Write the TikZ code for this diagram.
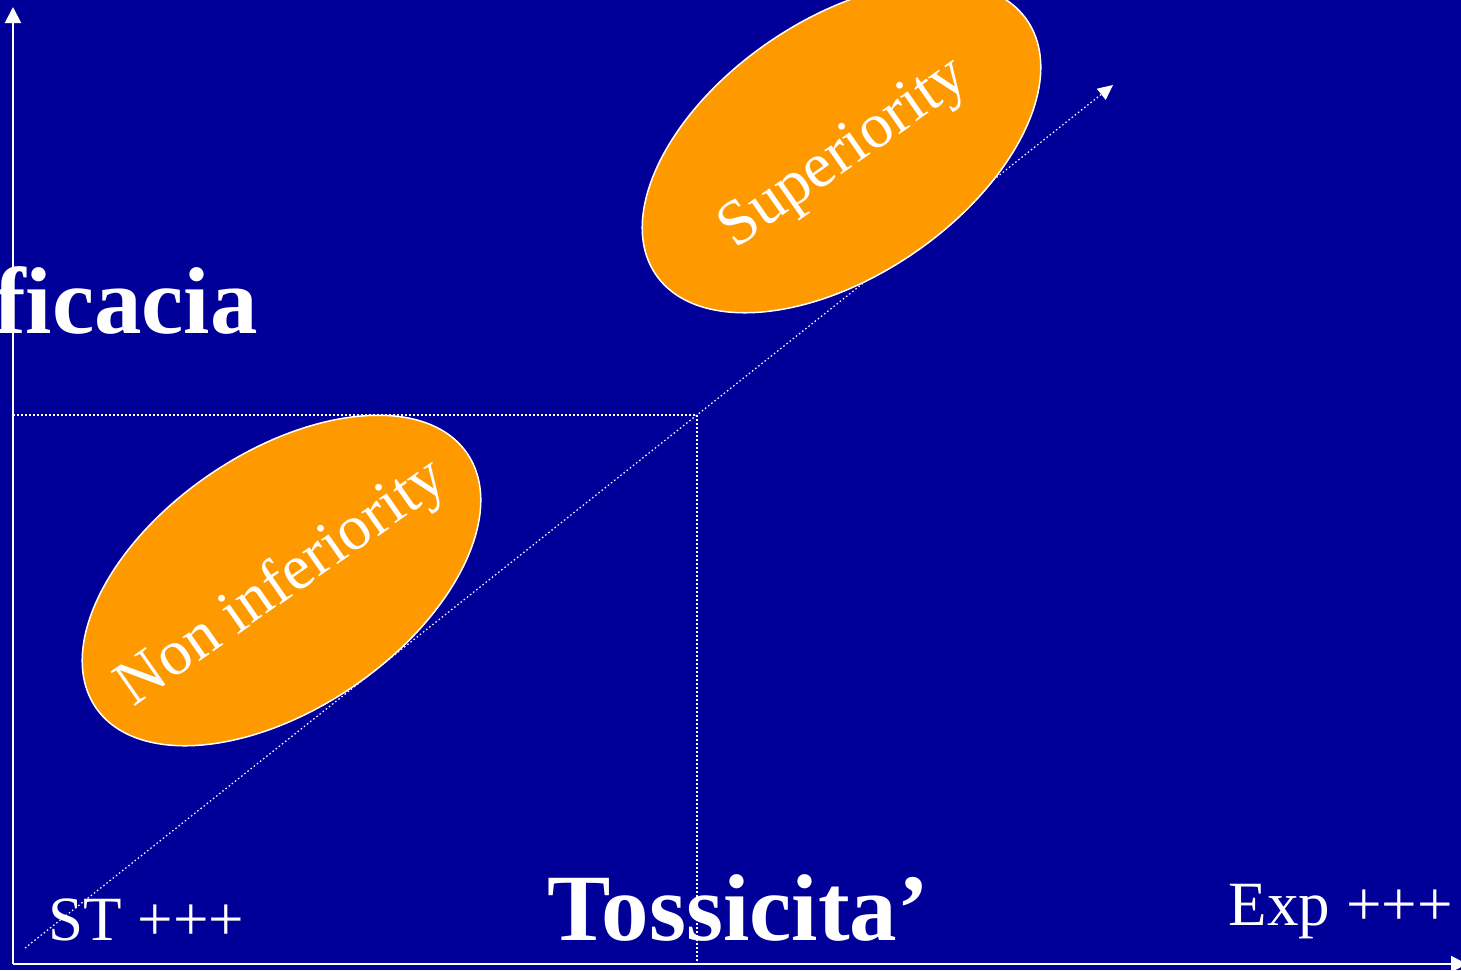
\documentclass[tikz,border=0pt]{standalone}
\usepackage{fontspec}
\setmainfont{Liberation Serif}
\usetikzlibrary{arrows.meta,shapes.geometric}
\definecolor{bgblue}{RGB}{0,0,153}
\definecolor{blob}{RGB}{255,153,0}
\tikzset{
  axis/.style={white, line width=2pt, -{Triangle[width=16pt,length=16pt]}},
  guide/.style={white, line width=1.2pt, dash pattern=on 1.5pt off 2.5pt},
  blobshape/.style={ellipse, draw=white, line width=1.5pt, fill=blob, inner sep=0pt,
    minimum width=450pt, minimum height=256pt, rotate=34.4},
  blobtext/.style={text=white, inner sep=0pt, font=\fontsize{64}{68}\selectfont, rotate=35},
  big/.style={text=white, inner sep=0pt, font=\bfseries\fontsize{95}{100}\selectfont},
  side/.style={text=white, inner sep=0pt, font=\fontsize{63}{68}\selectfont}
}
\begin{document}
\begin{tikzpicture}[x=1pt,y=-1pt]
\useasboundingbox (0,0) rectangle (1461,970);
\clip (0,0) rectangle (1461,970);
\fill[bgblue] (0,0) rectangle (1461,970);
\coordinate (O) at (13,964);
\coordinate (ytip) at (13,7);
\coordinate (xtip) at (1467,964);
\coordinate (dstart) at (25,948);
\coordinate (dtip) at (1113,85);
\coordinate (M) at (697,415);
\coordinate (yM) at (13,415);
\coordinate (xM) at (697,964);
% axes
\draw[axis] (O) -- (ytip);
\draw[axis] (O) -- (xtip);
% guides
\draw[guide] (yM) -- (M) -- (xM);
\draw[guide, -{Triangle[width=14pt,length=15pt]}] (dstart) -- (dtip);
% ellipses
\node[blobshape] (ni) at (281.5,580.5) {};
\node[blobshape] (sup) at (841.5,147.5) {};
\node[blobtext] (nitext) at (283,584) {Non inferiority};
\node[blobtext] (suptext) at (845,155) {Superiority};
% labels
\node[big, anchor=base] (tox) at (738,940) {Tossicita’};
\node[big, anchor=base east] (eff) at (258,333) {Efficacia};
\node[side, anchor=base west] (st) at (48,940) {ST +++};
\node[side, anchor=base east] (exp) at (1453,925) {Exp +++};
\end{tikzpicture}
\end{document}
